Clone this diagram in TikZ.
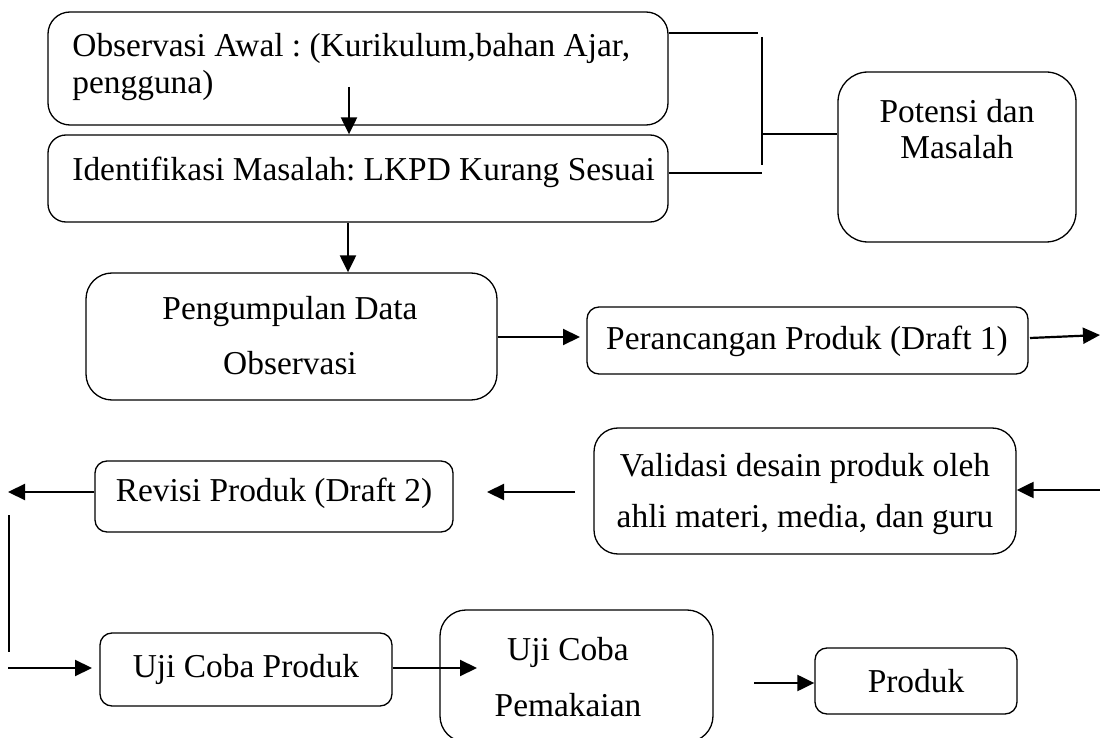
\documentclass[tikz,border=0pt]{standalone}
\usepackage{fontspec}
\setmainfont{Liberation Serif}
\usetikzlibrary{arrows.meta,fit}
\frenchspacing
\begin{document}
\begin{tikzpicture}[x=0.5pt,y=-0.5pt,
  box/.style={draw, line width=0.65pt, inner sep=0pt},
  lbl/.style={anchor=base, inner sep=0pt, font=\fontsize{16.7}{20}\selectfont},
  lbll/.style={anchor=base west, inner sep=0pt, font=\fontsize{16.7}{20}\selectfont},
  arr/.style={-{Triangle[length=8.5pt,width=8pt]}, line width=1.1pt},
  ln/.style={line width=0.65pt}]
\useasboundingbox (0,0) rectangle (1100,738);
% boxes
\node[box, rounded corners=11pt, fit={(48,12)(668,125)}] (obs) {};
\node[box, rounded corners=9pt, fit={(48,135)(668,222)}] (ident) {};
\node[box, rounded corners=15pt, fit={(838,72)(1076,242)}] (potensi) {};
\node[box, rounded corners=13pt, fit={(86,273)(497,400)}] (pengumpulan) {};
\node[box, rounded corners=6pt, fit={(587,307)(1028,374)}] (perancangan) {};
\node[box, rounded corners=12pt, fit={(594,428)(1016,554)}] (validasi) {};
\node[box, rounded corners=6pt, fit={(95,461)(453,532)}] (revisi) {};
\node[box, rounded corners=6pt, fit={(100,633)(392,706)}] (ujiproduk) {};
\node[box, rounded corners=13pt, fit={(440,610)(713,742)}] (pemakaian) {};
\node[box, rounded corners=6pt, fit={(815,648)(1017,714)}] (produk) {};
% labels
\node[lbll] (tobs1) at (72,57) {Observasi Awal : (Kurikulum,bahan Ajar,};
\node[lbll] (tobs2) at (72,94) {pengguna)};
\node[lbll] (tident) at (72,181) {Identifikasi Masalah: LKPD Kurang Sesuai};
\node[lbl] (tpot1) at (957,123) {Potensi dan};
\node[lbl] (tpot2) at (957,159) {Masalah};
\node[lbl] (tpeng1) at (290,320) {Pengumpulan Data};
\node[lbl] (tpeng2) at (290,375) {Observasi};
\node[lbl] (tper) at (807,350) {Perancangan Produk (Draft 1)};
\node[lbl] (tval1) at (805,476) {Validasi desain produk oleh};
\node[lbl] (tval2) at (805,527) {ahli materi, media, dan guru};
\node[lbl] (trev) at (274,502) {Revisi Produk (Draft 2)};
\node[lbl] (tuji) at (246,677) {Uji Coba Produk};
\node[lbl] (tpem1) at (568,660) {Uji Coba};
\node[lbl] (tpem2) at (568,716) {Pemakaian};
\node[lbl] (tprod) at (916,692) {Produk};
% bracket to Potensi dan Masalah
\coordinate (bt) at (758,33);
\coordinate (bv1) at (762,37);
\coordinate (bv2) at (762,165);
\coordinate (bb) at (762,173);
\coordinate (bm) at (762,134);
\draw[ln] (obs.east |- bt) -- (bt);
\draw[ln] (bv1) -- (bv2);
\draw[ln] (ident.east |- bb) -- (bb);
\draw[ln] (bm) -- (bm -| potensi.west);
% arrows
\coordinate (a1) at (349,87);
\draw[arr] (a1) -- (a1 |- ident.north);
\coordinate (a2) at (348,222);
\draw[arr] (a2 |- ident.south) -- (a2 |- pengumpulan.north);
\coordinate (a3) at (580,337);
\draw[arr] (pengumpulan.east |- a3) -- (a3);
\coordinate (a4s) at (1030,338);
\coordinate (a4) at (1100,335);
\draw[arr] (a4s) -- (a4);
\coordinate (a5) at (1100,490);
\draw[arr] (a5) -- (validasi.east |- a5);
\coordinate (a6s) at (575,492);
\coordinate (a6) at (487,492);
\draw[arr] (a6s) -- (a6);
\coordinate (a7) at (8,492);
\draw[arr] (revisi.west |- a7) -- (a7);
\coordinate (v1) at (9,515);
\coordinate (v2) at (9,652);
\draw[ln] (v1) -- (v2);
\coordinate (a8s) at (8,668);
\coordinate (a8) at (92,668);
\draw[arr] (a8s) -- (a8);
\coordinate (a9) at (477,668);
\draw[arr] (ujiproduk.east |- a9) -- (a9);
\coordinate (a10s) at (754,683);
\draw[arr] (a10s) -- (a10s -| produk.west);
\end{tikzpicture}
\end{document}
